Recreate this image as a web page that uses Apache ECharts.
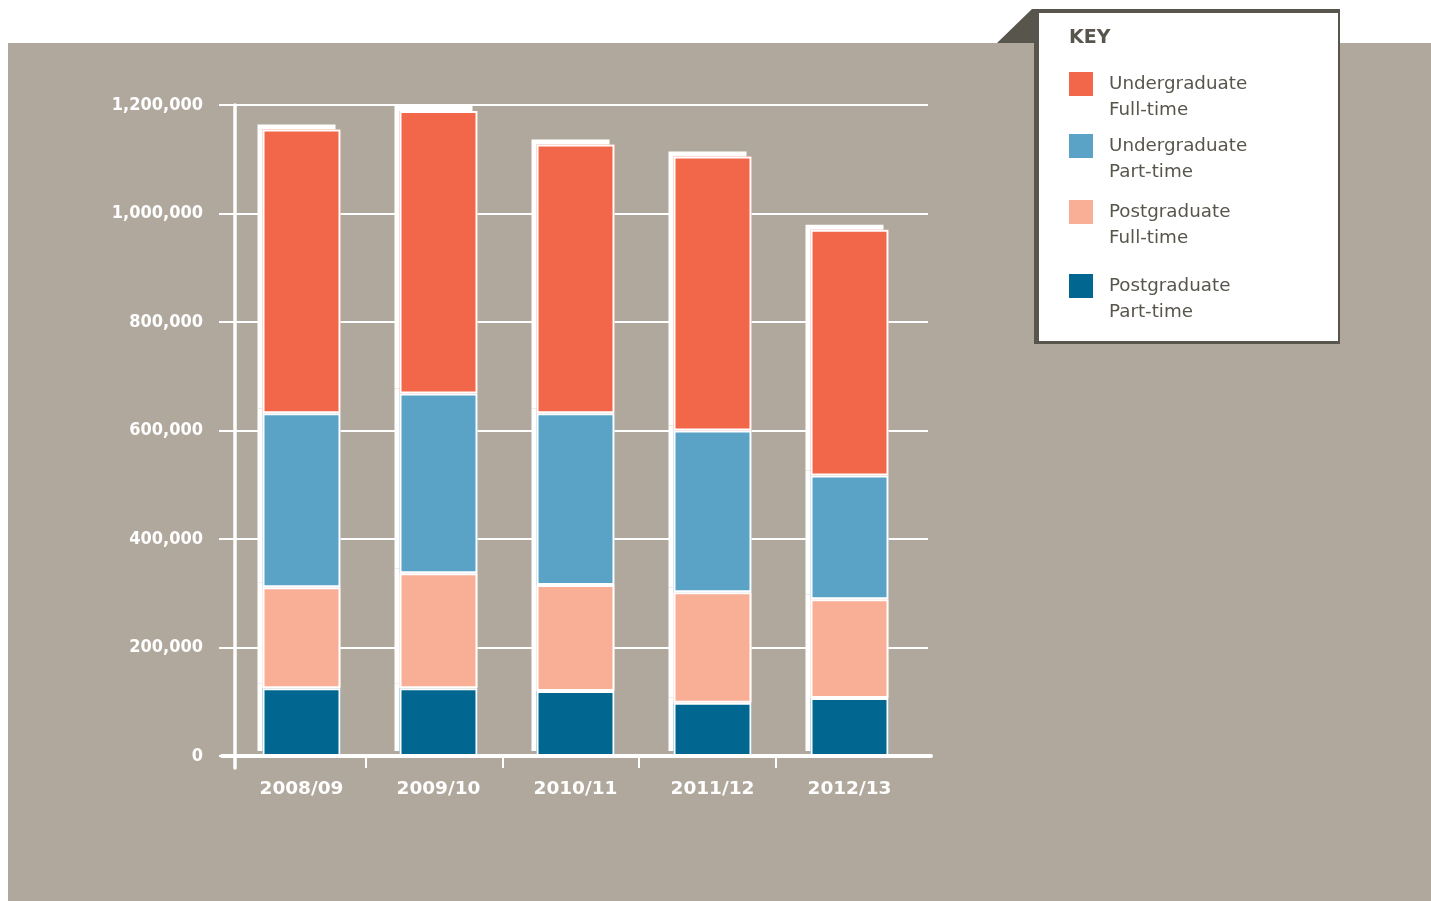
<!DOCTYPE html>
<html>
<head>
<meta charset="utf-8">
<script src="https://cdn.jsdelivr.net/npm/echarts@6/dist/echarts.min.js"></script>
<style>
html,body{margin:0;padding:0;background:#ffffff;}
#chart{width:1431px;height:901px;}
</style>
</head>
<body>
<div id="chart"></div>
<script>
const categories = ['2008/09', '2009/10', '2010/11', '2011/12', '2012/13'];
const ugFullTime = [523000, 521000, 495000, 505000, 453000];
const ugPartTime = [321000, 331000, 317000, 298000, 228000];
const pgFullTime = [186000, 212000, 195000, 204000, 182000];
const pgPartTime = [125000, 125000, 120000, 98000, 107000];
const seriesNames = ['Undergraduate\nFull-time', 'Undergraduate\nPart-time', 'Postgraduate\nFull-time', 'Postgraduate\nPart-time'];
const tickPositions = [1, 2, 3, 4];

const colors = {
  ugFT: '#f2674a',
  ugPT: '#5ba3c6',
  pgFT: '#f9ae96',
  pgPT: '#016791'
};
const dark = '#57554c';
const bg = '#b1a89d';

const chart = echarts.init(document.getElementById('chart'));

function fillSeries(name, data, color) {
  return {
    name: name,
    type: 'bar',
    stack: 'fill',
    xAxisIndex: 1,
    yAxisIndex: 1,
    barWidth: 78,
    barGap: '-100%',
    data: data,
    itemStyle: {
      color: color,
      borderWidth: 0,
      shadowColor: '#ffffff',
      shadowOffsetX: -5,
      shadowOffsetY: -5,
      shadowBlur: 0
    },
    emphasis: { disabled: true },
    z: 2
  };
}

function outlineSeries(name, data) {
  return {
    name: name + ' outline',
    type: 'bar',
    stack: 'outline',
    xAxisIndex: 1,
    yAxisIndex: 1,
    barWidth: 78,
    barGap: '-100%',
    data: data,
    itemStyle: {
      color: 'rgba(0,0,0,0)',
      borderColor: '#ffffff',
      borderWidth: 2
    },
    emphasis: { disabled: true },
    z: 3
  };
}

function legendFor(name, top) {
  return {
    data: [name],
    left: 1069,
    top: top,
    padding: 0,
    orient: 'vertical',
    icon: 'rect',
    itemWidth: 24,
    itemHeight: 24,
    selectedMode: false,
    z: 20,
    formatter: function (n) { return '\n' + n; },
    textStyle: {
      fontFamily: 'DejaVu Sans',
      fontSize: 18.3,
      color: dark,
      lineHeight: 26,
      padding: [0, 0, 0, 11]
    }
  };
}

const option = {
  animation: false,
  backgroundColor: '#ffffff',
  graphic: {
    elements: [
      { type: 'rect', z: -10, shape: { x: 8, y: 43, width: 1423, height: 858 }, style: { fill: bg } },
      { type: 'polygon', z: 10, shape: { points: [[997, 43], [1032, 9], [1040, 9], [1040, 43]] }, style: { fill: dark } },
      { type: 'rect', z: 10, shape: { x: 1034, y: 9, width: 306, height: 335 }, style: { fill: dark } },
      { type: 'rect', z: 11, shape: { x: 1039, y: 13, width: 299, height: 328 }, style: { fill: '#ffffff' } }
    ]
  },
  title: {
    text: 'KEY',
    left: 1069,
    top: 29,
    padding: 0,
    z: 20,
    textStyle: { fontFamily: 'DejaVu Sans', fontWeight: 'bold', fontSize: 19, color: dark }
  },
  legend: [
    legendFor(seriesNames[0], 45),
    legendFor(seriesNames[1], 107),
    legendFor(seriesNames[2], 173),
    legendFor(seriesNames[3], 247)
  ],
  grid: [
    { left: 219, top: 105, width: 709, height: 651 },
    { left: 233, top: 105, width: 685, height: 651 },
    { left: 222, top: 105, width: 709, height: 651 },
    { left: 235, top: 105, width: 10, height: 663 }
  ],
  xAxis: [
    { gridIndex: 0, type: 'value', show: false, min: 0, max: 1 },
    {
      gridIndex: 1, type: 'category', data: categories,
      axisLine: { show: false }, axisTick: { show: false },
      axisLabel: { color: '#ffffff', fontFamily: 'DejaVu Sans', fontWeight: 'bold', fontSize: 18.5, margin: 24 }
    },
    {
      gridIndex: 2, type: 'value', min: -0.055, max: 5.139, z: 5,
      axisLine: { show: true, onZero: false, lineStyle: { color: '#ffffff', width: 4 } },
      axisTick: { show: true, customValues: tickPositions, length: 12, lineStyle: { color: '#ffffff', width: 2 } },
      axisLabel: { show: false },
      splitLine: { show: false }
    },
    { gridIndex: 3, type: 'value', show: false, min: 0, max: 1 }
  ],
  yAxis: [
    {
      gridIndex: 0, type: 'value', min: 0, max: 1200000, interval: 200000,
      axisLine: { show: false }, axisTick: { show: false },
      splitLine: { show: true, lineStyle: { color: '#ffffff', width: 2 } },
      axisLabel: {
        color: '#ffffff', fontFamily: 'DejaVu Sans Condensed, DejaVu Sans', fontWeight: 'bold', fontSize: 18, margin: 16,
        formatter: function (v) { return v.toLocaleString('en-US'); }
      }
    },
    { gridIndex: 1, type: 'value', min: 0, max: 1200000, show: false },
    { gridIndex: 2, type: 'value', min: 0, max: 1, show: false },
    {
      gridIndex: 3, type: 'value', min: 0, max: 1, z: 5,
      axisLine: { show: true, lineStyle: { color: '#ffffff', width: 3.5 } },
      axisTick: { show: false }, axisLabel: { show: false }, splitLine: { show: false }
    }
  ],
  series: [
    fillSeries(seriesNames[3], pgPartTime, colors.pgPT),
    fillSeries(seriesNames[2], pgFullTime, colors.pgFT),
    fillSeries(seriesNames[1], ugPartTime, colors.ugPT),
    fillSeries(seriesNames[0], ugFullTime, colors.ugFT),
    outlineSeries(seriesNames[3], pgPartTime),
    outlineSeries(seriesNames[2], pgFullTime),
    outlineSeries(seriesNames[1], ugPartTime),
    outlineSeries(seriesNames[0], ugFullTime)
  ]
};
chart.setOption(option);
</script>
</body>
</html>
